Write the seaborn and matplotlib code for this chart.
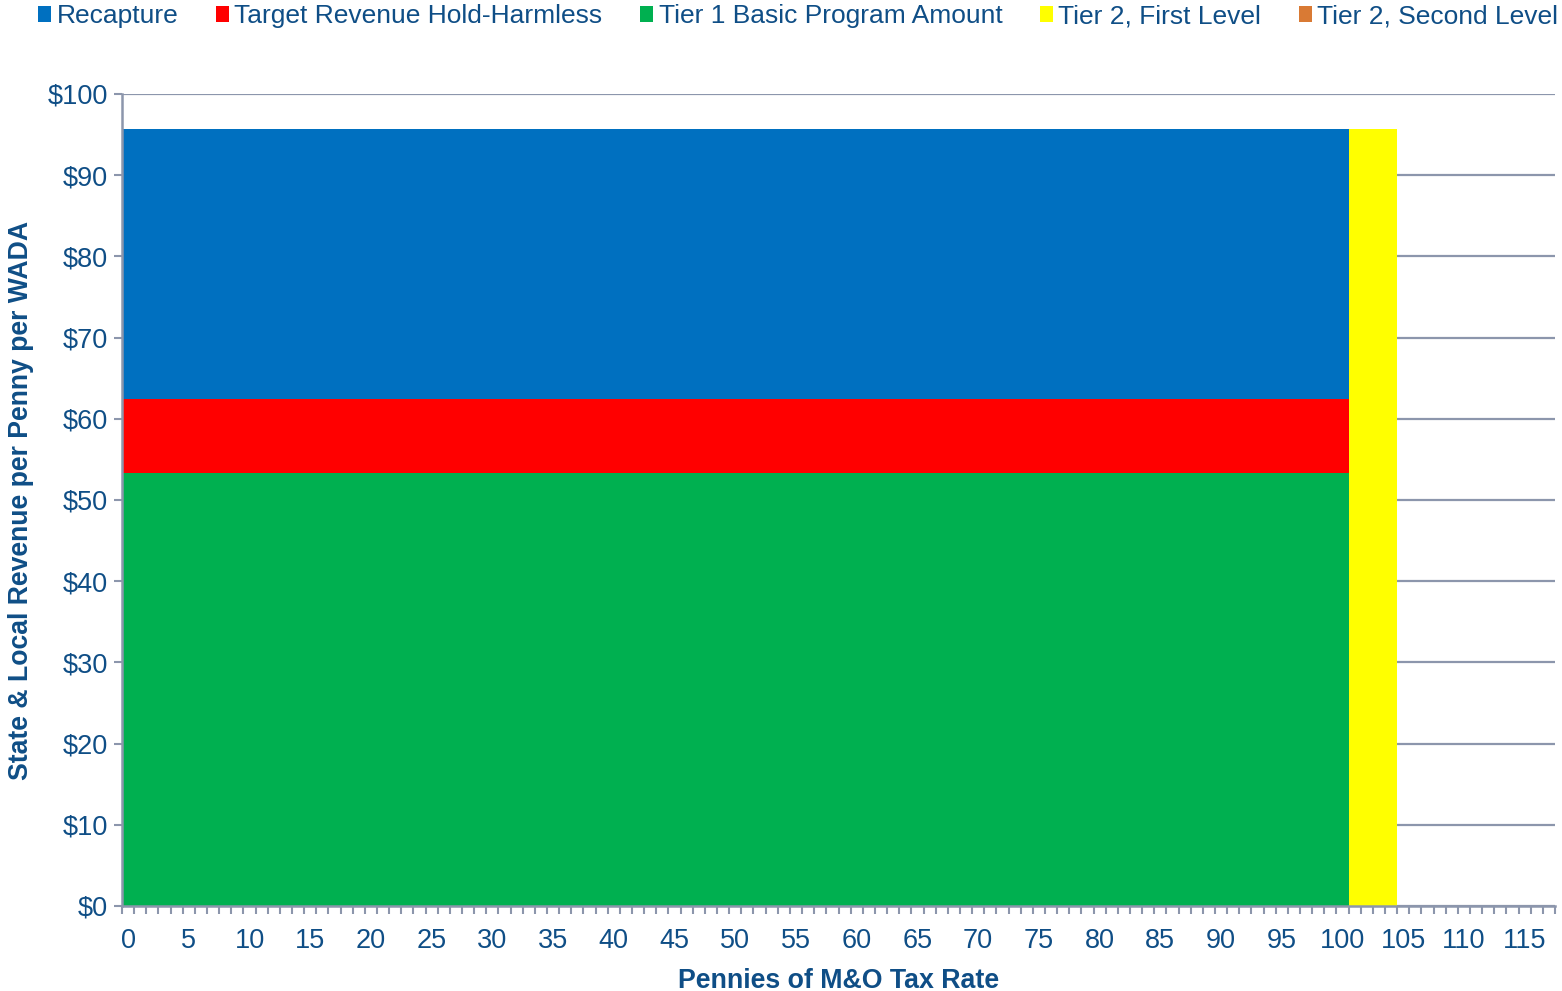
import numpy as np
import pandas as pd
import matplotlib
matplotlib.use("Agg")
import matplotlib.pyplot as plt
from matplotlib.patches import Patch
from matplotlib.ticker import FixedLocator, MultipleLocator
import seaborn as sns

# ---- data (values per penny of M&O tax rate, $ per WADA) ----
pennies = list(range(118))
tier1_basic = [53.3] * 101 + [0.0] * 17
hold_harmless = [9.1] * 101 + [0.0] * 17
recapture = [33.3] * 101 + [0.0] * 17
tier2_first = [0.0] * 101 + [95.7] * 4 + [0.0] * 13
tier2_second = [0.0] * 118

series_names = ["Recapture", "Target Revenue Hold-Harmless",
                "Tier 1 Basic Program Amount", "Tier 2, First Level",
                "Tier 2, Second Level"]
colors = {"Recapture": "#0070C0", "Target Revenue Hold-Harmless": "#FF0000",
          "Tier 1 Basic Program Amount": "#00B050", "Tier 2, First Level": "#FFFF00",
          "Tier 2, Second Level": "#D97A34"}

x_tick_labels = [str(v) for v in range(0, 116, 5)]
y_tick_values = list(range(0, 101, 10))

df = pd.DataFrame({"penny": pennies, "tier1": tier1_basic, "hh": hold_harmless,
                   "recap": recapture, "t2a": tier2_first, "t2b": tier2_second})
# cumulative tops for stacking (drawn back-to-front)
df["top_t2b"] = df[["tier1", "hh", "recap", "t2a", "t2b"]].sum(axis=1)
df["top_t2a"] = df[["tier1", "hh", "recap", "t2a"]].sum(axis=1)
df["top_recap"] = df[["tier1", "hh", "recap"]].sum(axis=1)
df["top_hh"] = df[["tier1", "hh"]].sum(axis=1)
df["top_t1"] = df["tier1"]

text_color = "#0F4E86"
axis_color = "#8C96AC"

sns.set_theme(style="white")
plt.rcParams["font.family"] = ["Liberation Sans", "DejaVu Sans"]

fig = plt.figure(figsize=(15.62, 9.91), dpi=100)
ax = fig.add_axes([122 / 1562, 1 - 906 / 991, (1555 - 122) / 1562, (906 - 94) / 991])

order = pennies
layers = [("top_t2b", "Tier 2, Second Level"), ("top_t2a", "Tier 2, First Level"),
          ("top_recap", "Recapture"), ("top_hh", "Target Revenue Hold-Harmless"),
          ("top_t1", "Tier 1 Basic Program Amount")]
for col, name in layers:
    sns.barplot(data=df, x="penny", y=col, order=order, color=colors[name],
                width=1.0, saturation=1, linewidth=0, errorbar=None, ax=ax,
                native_scale=False)

ax.set_xlim(-0.5, 117.5)
ax.set_ylim(0, 100)
ax.set_axisbelow(True)

# x ticks: labels at category centres every 5, small tick marks at boundaries
ax.xaxis.set_major_locator(FixedLocator(list(range(0, 116, 5))))
ax.set_xticklabels(x_tick_labels)
ax.xaxis.set_minor_locator(FixedLocator(list(np.arange(-0.5, 118, 1.0))))
ax.tick_params(axis="x", which="major", length=0, pad=16, labelsize=19.5,
               labelcolor=text_color, bottom=True)
ax.tick_params(axis="x", which="minor", length=6, width=1.5, color=axis_color,
               direction="out", bottom=True)

ax.yaxis.set_major_locator(FixedLocator(y_tick_values))
ax.set_yticklabels([f"${v}" for v in y_tick_values])
ax.yaxis.set_minor_locator(MultipleLocator(5))
ax.tick_params(axis="y", which="major", length=6, width=1.5, color=axis_color,
               direction="out", labelsize=19.5, labelcolor=text_color, pad=4, left=True)
ax.tick_params(axis="y", which="minor", length=5, width=1.5, color=axis_color,
               direction="in", left=True)

ax.grid(axis="y", which="major", color=axis_color, linewidth=1.6)
ax.grid(axis="x", visible=False)

for s in ["top", "right"]:
    ax.spines[s].set_visible(False)
for s in ["left", "bottom"]:
    ax.spines[s].set_color(axis_color)
    ax.spines[s].set_linewidth(1.8)

ax.set_xlabel("Pennies of M&O Tax Rate", fontsize=19.3, fontweight="bold",
              color=text_color, labelpad=10)
ax.set_ylabel("State & Local Revenue per Penny per WADA", fontsize=19.2,
              fontweight="bold", color=text_color, labelpad=10)

handles = [Patch(facecolor=colors[n], edgecolor="none", label=n) for n in series_names]
fig.legend(handles=handles, loc="upper left", bbox_to_anchor=(33 / 1562, 1.001),
           ncol=5, frameon=False, fontsize=19, handlelength=0.5, handleheight=0.6,
           handletextpad=0.2, columnspacing=1.42, labelcolor=text_color,
           borderaxespad=0, borderpad=0.2)

fig.savefig("out.png", dpi=100)
